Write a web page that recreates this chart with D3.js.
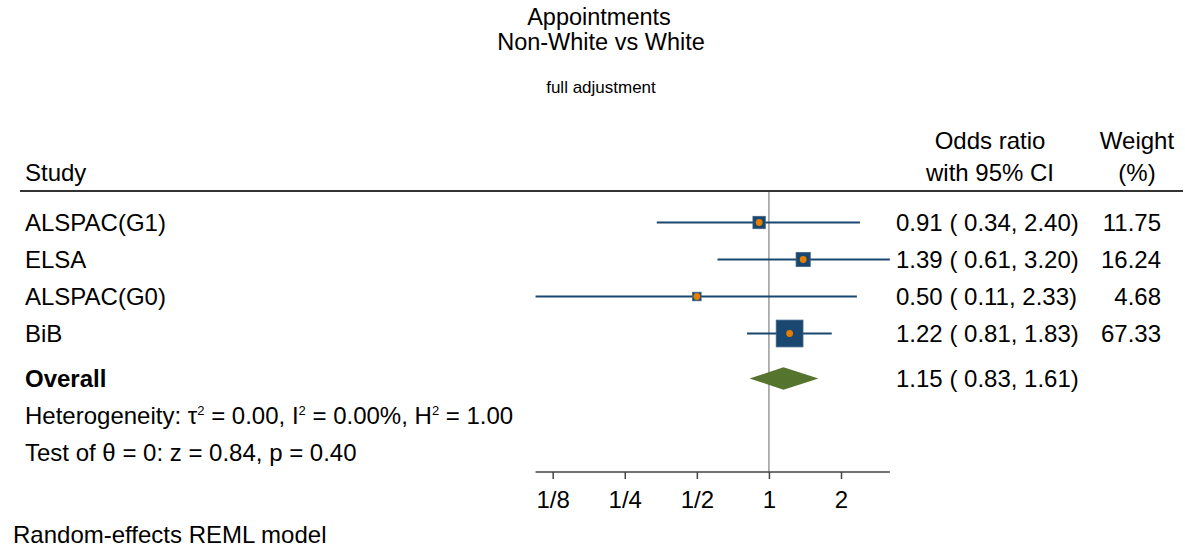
<!DOCTYPE html>
<html>
<head>
<meta charset="utf-8">
<script src="https://cdn.jsdelivr.net/npm/d3@7"></script>
<style>
  html, body { margin: 0; padding: 0; background: #fff; }
  svg text { font-family: "Liberation Sans", Arial, Helvetica, sans-serif; fill: #000; }
</style>
</head>
<body>
<svg id="chart" width="1185" height="550"></svg>
<script>
// ---- data ----
const studies = ["ALSPAC(G1)", "ELSA", "ALSPAC(G0)", "BiB"];
const oddsRatio = [0.91, 1.39, 0.50, 1.22];
const ciLower = [0.34, 0.61, 0.106, 0.81];
const ciUpper = [2.40, 3.20, 2.33, 1.83];
const weights = [11.75, 16.24, 4.68, 67.33];
const overallOR = 1.15;
const overallLower = 0.83;
const overallUpper = 1.61;
const tickValues = [0.125, 0.25, 0.5, 1, 2];
const tickLabels = ["1/8", "1/4", "1/2", "1", "2"];
const titleLines = ["Appointments", "Non-White vs White"];
const subtitle = "full adjustment";
const note = "Random-effects REML model";

// ---- layout ----
const svg = d3.select("#chart");
const FS = 24;
const TFS = 23.5;
const blue = "#1a476f", orange = "#e37e00", green = "#55752f";
const f2 = d3.format(".2f");

const x = d3.scaleLog().base(2).domain([0.125, 2]).range([552.7, 841]);
const rowY = d3.scaleLinear().domain([0, 1]).range([222.5, 259.5]);
const boxSize = d3.scaleSqrt().domain([0, d3.max(weights)]).range([0, 24.8]);

// titles
svg.append("text").attr("x", 599).attr("y", 25).attr("text-anchor", "middle")
  .attr("font-size", TFS).text(titleLines[0]);
svg.append("text").attr("x", 601).attr("y", 50).attr("text-anchor", "middle")
  .attr("font-size", TFS).text(titleLines[1]);
svg.append("text").attr("x", 601).attr("y", 93).attr("text-anchor", "middle")
  .attr("font-size", 17).text(subtitle);

// headers
svg.append("text").attr("x", 25).attr("y", 181).attr("font-size", FS).text("Study");
svg.append("text").attr("x", 990).attr("y", 149).attr("text-anchor", "middle").attr("font-size", FS).text("Odds ratio");
svg.append("text").attr("x", 990).attr("y", 181).attr("text-anchor", "middle").attr("font-size", FS).text("with 95% CI");
svg.append("text").attr("x", 1137).attr("y", 149).attr("text-anchor", "middle").attr("font-size", FS).text("Weight");
svg.append("text").attr("x", 1137).attr("y", 181).attr("text-anchor", "middle").attr("font-size", FS).text("(%)");

// header rule
svg.append("line").attr("x1", 20).attr("x2", 1183).attr("y1", 191).attr("y2", 191)
  .attr("stroke", "#333").attr("stroke-width", 2);

const axisY = 472;
const overallIdx = 4.216;

// reference line at 1
svg.append("line").attr("x1", x(1)).attr("x2", x(1)).attr("y1", 192).attr("y2", axisY)
  .attr("stroke", "#8a8a8a").attr("stroke-width", 1.3);

// study rows
const rows = svg.append("g").selectAll("g").data(studies).join("g");
rows.append("line")
  .attr("x1", (d, i) => x(ciLower[i])).attr("x2", (d, i) => x(ciUpper[i]))
  .attr("y1", (d, i) => rowY(i)).attr("y2", (d, i) => rowY(i))
  .attr("stroke", blue).attr("stroke-width", 1.8);
rows.append("rect")
  .attr("x", (d, i) => x(oddsRatio[i]) - (boxSize(weights[i]) + 2) / 2)
  .attr("y", (d, i) => rowY(i) - (boxSize(weights[i]) + 2) / 2)
  .attr("width", (d, i) => boxSize(weights[i]) + 2)
  .attr("height", (d, i) => boxSize(weights[i]) + 2)
  .attr("fill", blue).attr("stroke", "#3d6288").attr("stroke-width", 0.8);
rows.append("circle")
  .attr("cx", (d, i) => x(oddsRatio[i])).attr("cy", (d, i) => rowY(i))
  .attr("r", 3.4).attr("fill", orange);
rows.append("text").attr("x", 25).attr("y", (d, i) => rowY(i)).attr("dy", "0.36em")
  .attr("font-size", FS).text(d => d);
rows.append("text").attr("x", 896).attr("y", (d, i) => rowY(i)).attr("dy", "0.36em")
  .attr("font-size", FS).attr("xml:space", "preserve")
  .text((d, i) => `${f2(oddsRatio[i])} ( ${f2(ciLower[i])}, ${f2(ciUpper[i])})`);
rows.append("text").attr("x", 1161).attr("y", (d, i) => rowY(i)).attr("dy", "0.36em")
  .attr("text-anchor", "end").attr("font-size", FS)
  .text((d, i) => f2(weights[i]));

// overall
const oy = rowY(overallIdx);
svg.append("path")
  .attr("d", `M${x(overallLower)},${oy} L${x(overallOR)},${oy - 11.2} L${x(overallUpper)},${oy} L${x(overallOR)},${oy + 11.2} Z`)
  .attr("fill", green);
svg.append("text").attr("x", 25).attr("y", oy).attr("dy", "0.36em")
  .attr("font-size", FS).attr("font-weight", "bold").text("Overall");
svg.append("text").attr("x", 896).attr("y", oy).attr("dy", "0.36em")
  .attr("font-size", FS).attr("xml:space", "preserve")
  .text(`${f2(overallOR)} ( ${f2(overallLower)}, ${f2(overallUpper)})`);

// heterogeneity
const het = svg.append("text").attr("x", 25).attr("y", rowY(overallIdx + 1) + 8.6).attr("font-size", FS)
  .attr("xml:space", "preserve");
const parts = [["Heterogeneity: τ", "2"], [" = 0.00, I", "2"], [" = 0.00%, H", "2"], [" = 1.00", null]];
let pendingDy = 0;
parts.forEach(([t, sup]) => {
  const ts = het.append("tspan").text(t);
  if (pendingDy) ts.attr("dy", pendingDy);
  pendingDy = 0;
  if (sup) {
    het.append("tspan").attr("dy", -9).attr("font-size", 13).text(sup);
    pendingDy = 9;
  }
});
svg.append("text").attr("x", 25).attr("y", rowY(overallIdx + 2)).attr("dy", "0.36em")
  .attr("font-size", FS).text("Test of θ = 0: z = 0.84, p = 0.40");

// axis
const axisG = svg.append("g").attr("transform", `translate(0,${axisY})`);
axisG.append("line")
  .attr("x1", x(d3.min(ciLower))).attr("x2", x(d3.max(ciUpper)))
  .attr("stroke", "#444").attr("stroke-width", 1.5);
const axis = d3.axisBottom(x).tickValues(tickValues)
  .tickFormat((d, i) => tickLabels[i]).tickSize(7).tickSizeOuter(0).tickPadding(12);
const ag = axisG.append("g").call(axis);
ag.select(".domain").remove();
ag.selectAll(".tick line").attr("stroke", "#444").attr("stroke-width", 1.5);
ag.selectAll(".tick text").attr("font-size", FS).attr("font-family", "Liberation Sans, Arial, sans-serif").attr("fill", "#000");

// note
svg.append("text").attr("x", 13).attr("y", 543).attr("font-size", FS).text(note);
</script>
</body>
</html>
